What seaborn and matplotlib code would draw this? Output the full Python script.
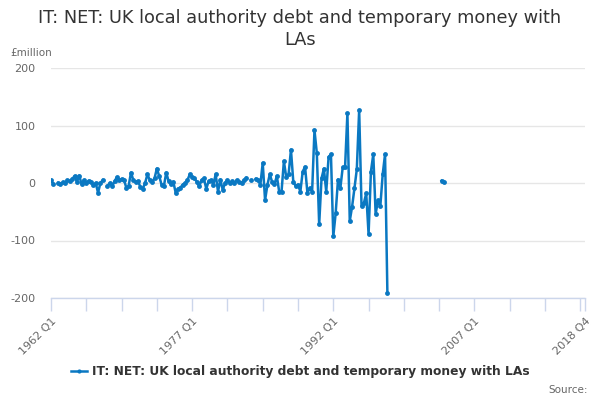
import numpy as np
import pandas as pd
import matplotlib
matplotlib.use("Agg")
import matplotlib.pyplot as plt
from matplotlib.lines import Line2D
import seaborn as sns

nan = np.nan
# Quarterly values (£million), 1962 Q1 onward; NaN = missing
values_1962_1983 = [5, -2, nan, 0, -2, 1, 0, 5, 3, 7, 12, 2, 13, -2, 5, 0, 4, 2, -3, 0,
                    -17, 0, 5, nan, -5, 0, -6, 3, 10, 5, 7, 6, -8, -5, 18, 5, 2, 3, -7, -10,
                    0, 15, 5, 2, 8, 25, 12, -3, -5, 18, 3, -2, 2, -17, -10, -8, -3, 0, 5, 15,
                    10, 8, 2, -6, 5, 8, -10, 3, 5, -3, 15, -15, 6, -12, 0, 5, 0, 3, 0, 5,
                    2, 0, 5, 9, nan, 5, nan, 7]
values_1984_1997 = [5, -3, 35, -30, -3, 15, 2, -2, 12, -15, -15, 38, 10, 15, 58, 2, -5, -3,
                    -15, 20, 28, -17, -9, -15, 92, 52, -72, 8, 25, -15, 45, 50, -93, -53, 6, -9,
                    27, 27, 121, -66, -41, -9, 24, 127, -40, -35, -18, -89, 20, 50, -54, -30, -40,
                    15, 50, -192]
values_2003 = [4, 1]
start_2003 = 166          # quarter index of 2003 Q3
n_quarters = 228          # 1962 Q1 .. 2018 Q4

tick_labels = ["1962 Q1", "1977 Q1", "1992 Q1", "2007 Q1", "2018 Q4"]
series_name = "IT: NET: UK local authority debt and temporary money with LAs"
title_lines = ["IT: NET: UK local authority debt and temporary money with", "LAs"]

vals = np.full(n_quarters, np.nan)
early = values_1962_1983 + values_1984_1997
vals[:len(early)] = early
vals[start_2003:start_2003 + len(values_2003)] = values_2003

df = pd.DataFrame({"q": np.arange(n_quarters), "v": vals})
df["seg"] = df["v"].isna().cumsum()
df = df.dropna()

color = "#0a78c2"
fig = plt.figure(figsize=(6, 4), dpi=100)
ax = fig.add_axes([51/600, 1 - 298/400, (585 - 51)/600, (298 - 68)/400])
sns.lineplot(data=df, x="q", y="v", units="seg", estimator=None, ax=ax,
             color=color, lw=1.8, marker="o", markersize=3.5, markeredgewidth=0,
             legend=False)

ax.set_xlim(0, 227)
ax.set_ylim(-200, 200)
ax.set_yticks([-200, -100, 0, 100, 200])
ax.set_yticklabels(["-200", "-100", "0", "100", "200"])
ax.tick_params(axis="y", length=0, pad=11, labelsize=8, labelcolor="#666666")
for s in ["top", "right", "left"]:
    ax.spines[s].set_visible(False)
ax.spines["bottom"].set_color("#ccd6eb")
ax.spines["bottom"].set_linewidth(1)
ax.grid(axis="y", color="#e6e6e6", lw=1)
ax.set_axisbelow(True)

major = [0, 60, 120, 180, 227]
minor = [t for t in range(0, 226, 15) if t not in major]
ax.set_xticks(major)
ax.set_xticklabels(tick_labels, rotation=45, ha="right", rotation_mode="anchor")
ax.set_xticks(minor, minor=True)
ax.tick_params(axis="x", which="both", length=9, width=1, color="#ccd6eb",
               labelsize=8, labelcolor="#666666", pad=4)
ax.set_xlabel("")
ax.set_ylabel("")

fig.text(0.5, 1 - 18/400, title_lines[0], ha="center", va="center",
         fontsize=12.8, color="#333333")
fig.text(0.5, 1 - 40/400, title_lines[1], ha="center", va="center",
         fontsize=12.8, color="#333333")
fig.text(10/600, 1 - 53/400, "£million", ha="left", va="center", fontsize=7.5, color="#666666")
fig.text(588/600, 1 - 390/400, "Source:", ha="right", va="center", fontsize=7.5, color="#666666")

handle = Line2D([], [], color=color, lw=1.8, marker="o", markersize=3, markeredgewidth=0)
leg = fig.legend([handle], [series_name], loc="center", bbox_to_anchor=(0.5, 1 - 372/400),
                 frameon=False, handlelength=1.3, handletextpad=0.4,
                 prop={"size": 8.8, "weight": "bold"})
for t in leg.get_texts():
    t.set_color("#333333")

fig.savefig("out.png", dpi=100)
